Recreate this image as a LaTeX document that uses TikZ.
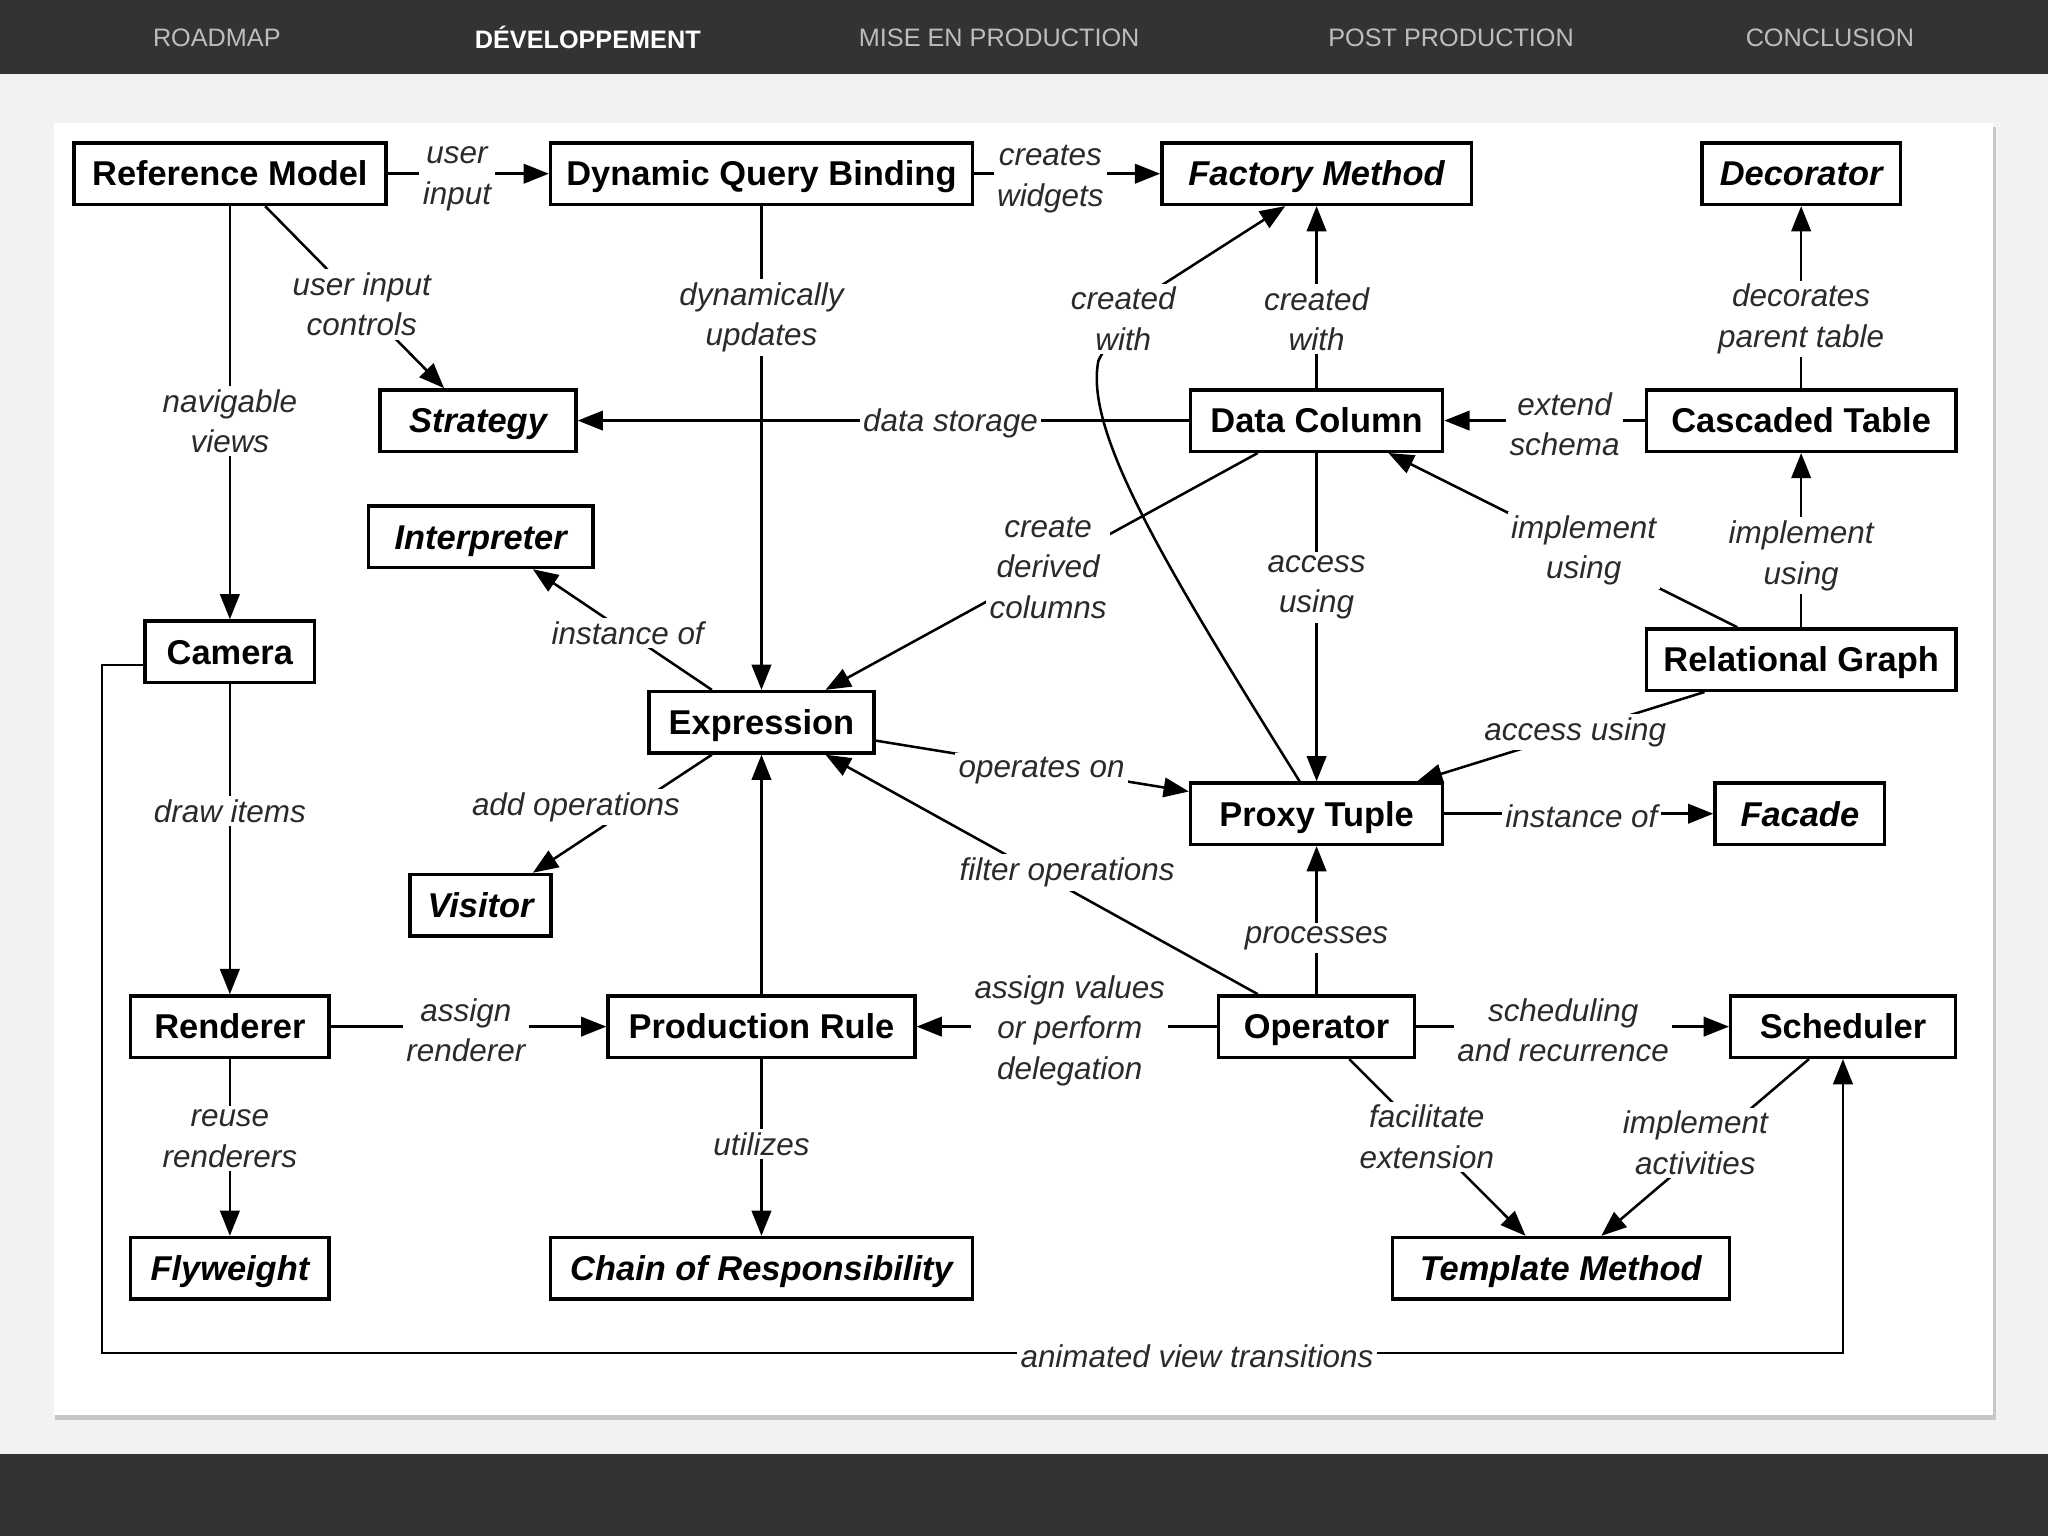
\documentclass[tikz,border=0pt]{standalone}
\usepackage{fontspec}
\setmainfont{Liberation Sans}
\usetikzlibrary{arrows.meta,calc}
\definecolor{barbg}{HTML}{333333}
\definecolor{pagebg}{HTML}{F2F2F2}
\definecolor{menutext}{HTML}{BDBDBD}
\definecolor{lbltext}{HTML}{2A2A2A}
\newcommand{\boxfont}{\bfseries\fontsize{15}{18}\selectfont}
\newcommand{\lblfont}{\itshape\fontsize{13.7}{17.6}\selectfont}
\newcommand{\menufont}{\fontsize{11}{13}\selectfont}

\begin{document}
\begin{tikzpicture} [
  x=0.02cm, y=-0.02cm,
  box/.style={draw, line width=1.5pt, minimum height=0.94cm, inner sep=0pt, text height=10.7pt, text depth=0pt, font=\boxfont},
  dpbox/.style={box, font=\boxfont\itshape},
  conn/.style={line width=1.1pt, -{Triangle[length=11pt,width=8.5pt]}},
  lbl/.style={fill=white, inner sep=1.5pt, align=center, text=lbltext, font=\lblfont},
  menu/.style={text=menutext, font=\menufont}
  ]
  \useasboundingbox (0,0) rectangle (1568,1176);
  \fill[pagebg] (0,0) rectangle (1568,1176);
  \fill[barbg] (0,0) rectangle (1568,57);
  \fill[barbg] (0,1113) rectangle (1568,1176);
  \node[menu] (m1) at (166,29) {ROADMAP};
  \node[menu, text=white, font=\menufont\bfseries] (m2) at (450,29) {DÉVELOPPEMENT};
  \node[menu] (m3) at (765,29) {MISE EN PRODUCTION};
  \node[menu] (m4) at (1111,29) {POST PRODUCTION};
  \node[menu] (m5) at (1401,29) {CONCLUSION};
  \fill[black!22] (42,97) rectangle (1528,1087);
  \fill[white] (41,94) rectangle (1526,1083);

  \node[box, minimum width=4.78cm] (rm) at (176,133) {Reference Model};
  \node[box, minimum width=6.46cm] (dqb) at (583,133) {Dynamic Query Binding};
  \node[dpbox, minimum width=4.74cm] (fm) at (1008,133) {Factory Method};
  \node[dpbox, minimum width=3.04cm] (dec) at (1379,133) {Decorator};
  \node[dpbox, minimum width=3.00cm] (strat) at (366,322) {Strategy};
  \node[box, minimum width=3.86cm] (dc) at (1008,322) {Data Column};
  \node[box, minimum width=4.74cm] (ct) at (1379,322) {Cascaded Table};
  \node[dpbox, minimum width=3.44cm] (interp) at (368,411) {Interpreter};
  \node[box, minimum width=2.60cm] (cam) at (176,499) {Camera};
  \node[box, minimum width=3.44cm] (expr) at (583,553) {Expression};
  \node[box, minimum width=4.74cm] (rg) at (1379,505) {Relational Graph};
  \node[box, minimum width=3.86cm] (pt) at (1008,623) {Proxy Tuple};
  \node[dpbox, minimum width=2.60cm] (fac) at (1378,623) {Facade};
  \node[dpbox, minimum width=2.16cm] (vis) at (368,693) {Visitor};
  \node[box, minimum width=3.04cm] (ren) at (176,786) {Renderer};
  \node[box, minimum width=4.70cm] (pr) at (583,786) {Production Rule};
  \node[box, minimum width=3.00cm] (op) at (1008,786) {Operator};
  \node[box, minimum width=3.44cm] (sch) at (1411,786) {Scheduler};
  \node[dpbox, minimum width=3.04cm] (fly) at (176,971) {Flyweight};
  \node[dpbox, minimum width=6.46cm] (cor) at (583,971) {Chain of Responsibility};
  \node[dpbox, minimum width=5.16cm] (tm) at (1195,971) {Template Method};

  \draw[conn] (rm.east) -- node[lbl, pos=0.43, yshift=-0.08cm] {user\\input} (dqb.west);
  \draw[conn] (dqb.east) -- node[lbl, pos=0.41, yshift=-0.08cm] {creates\\widgets} (fm.west);
  \draw[conn] ($(rm.south)+(27,0)$) -- node[lbl, pos=0.54] {user input\\controls} ($(strat.north)+(-26,0)$);
  \draw[conn] (rm.south) -- node[lbl, pos=0.52] {navigable\\views} (cam.north);
  \draw[conn] (dqb.south) -- node[lbl, pos=0.23] {dynamically\\updates} (expr.north);
  \draw[conn] (dc.west) -- node[lbl, pos=0.39, yshift=-0.04cm] {data storage} (strat.east);
  \draw[conn] (dc.north) -- node[lbl, pos=0.38] {created\\with} (fm.south);
  \draw[conn] ($(pt.north)+(-13,0)$) .. controls (890,430) and (830,330) .. (841,276)
    -- (862,236) -- ($(fm.south)+(-24,0)$) node[lbl] at (860,244) {created\\with};
  \draw[conn] (ct.west) -- node[lbl, pos=0.40, yshift=-0.06cm] {extend\\schema} (dc.east);
  \draw[conn] (ct.north) -- node[lbl, pos=0.38] {decorates\\parent table} (dec.south);
  \draw[conn] (rg.north) -- node[lbl, pos=0.41] {implement\\using} (ct.south);
  \draw[conn] ($(rg.north)+(-49,0)$) -- node[lbl, pos=0.44] {implement\\using} ($(dc.south)+(55,0)$);
  \draw[conn] ($(dc.south)+(-45,0)$) -- node[lbl, pos=0.485] {create\\derived\\columns} ($(expr.north)+(49,0)$);
  \draw[conn] (dc.south) -- node[lbl, pos=0.41] {access\\using} (pt.north);
  \draw[conn] ($(expr.north)+(-38,0)$) -- node[lbl, pos=0.47] {instance of} ($(interp.south)+(40,0)$);
  \draw[conn] ($(expr.south)+(-38,0)$) -- ($(vis.north)+(40,0)$) node[lbl] at (441,618) {add operations};
  \draw[conn] ($(expr.east)+(0,14)$) -- node[lbl, pos=0.53, yshift=-0.04cm] {operates on} ($(pt.west)+(0,-17)$);
  \draw[conn] ($(rg.south)+(-74,0)$) -- node[lbl, pos=0.45] {access using} ($(pt.north)+(77,0)$);
  \draw[conn] (pt.east) -- node[lbl, pos=0.51, yshift=-0.04cm] {instance of} (fac.west);
  \draw[conn] ($(op.north)+(-45,0)$) -- ($(expr.south)+(49,0)$) node[lbl] at (817,668) {filter operations};
  \draw[conn] (op.north) -- node[lbl, pos=0.38] {processes} (pt.south);
  \draw[conn] (pr.north) -- (expr.south);
  \draw[conn] (op.west) -- node[lbl, pos=0.49, yshift=-0.06cm] {assign values\\or perform\\delegation} (pr.east);
  \draw[conn] (ren.east) -- node[lbl, pos=0.49, yshift=-0.06cm] {assign\\renderer} (pr.west);
  \draw[conn] (cam.south) -- node[lbl, pos=0.41] {draw items} (ren.north);
  \draw[conn] (ren.south) -- node[lbl, pos=0.45] {reuse\\renderers} (fly.north);
  \draw[conn] (pr.south) -- node[lbl, pos=0.48] {utilizes} (cor.north);
  \draw[conn] (op.east) -- node[lbl, pos=0.47, yshift=-0.06cm] {scheduling\\and recurrence} (sch.west);
  \draw[conn] ($(op.south)+(25,0)$) -- node[lbl, pos=0.44] {facilitate\\extension} ($(tm.north)+(-27,0)$);
  \draw[conn] ($(sch.south)+(-26,0)$) -- ($(tm.north)+(31,0)$) node[lbl] at (1298,875) {implement\\activities};
  \draw[conn] ($(cam.west)+(0,10)$) -- (78,509) -- (78,1036)
    -- node[lbl, pos=0.629, yshift=-0.04cm] {animated view transitions} (1411,1036) -- (sch.south);
\end{tikzpicture}
\end{document}
